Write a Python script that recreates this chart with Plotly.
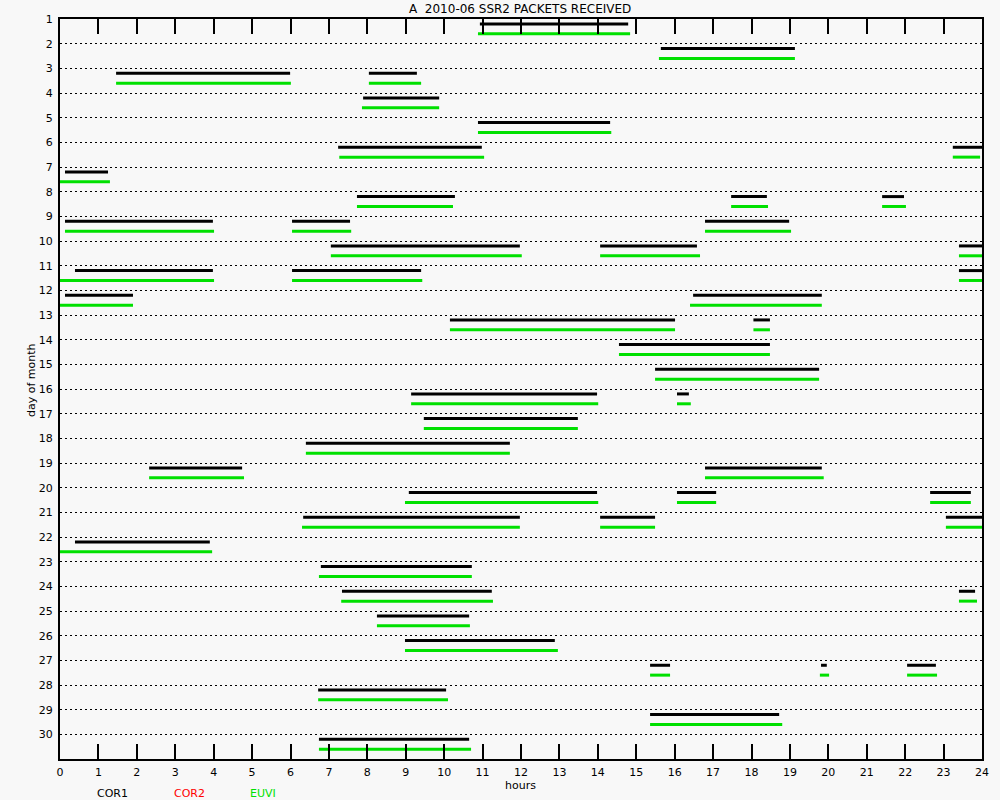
import plotly.graph_objects as go

# COR1 (black) packet intervals: day, start hour, end hour
cor1_day = [1, 2, 3, 3, 4, 5, 6, 6, 7, 8, 8, 8, 9, 9, 9, 10, 10, 10, 11, 11, 11,
            12, 12, 13, 13, 14, 15, 16, 16, 17, 18, 19, 19, 20, 20, 20, 21, 21, 21,
            22, 23, 24, 24, 25, 26, 27, 27, 27, 28, 29, 30]
cor1_start = [10.93, 15.64, 1.46, 8.04, 7.89, 10.88, 7.24, 23.24, 0.13, 7.73, 17.47, 21.40,
              0.13, 6.04, 16.79, 7.05, 14.06, 23.40, 0.39, 6.04, 23.40,
              0.13, 16.48, 10.15, 18.05, 14.55, 15.49, 9.14, 16.06, 9.47, 6.40, 2.32, 16.79,
              9.08, 16.06, 22.65, 6.33, 14.06, 23.06,
              0.39, 6.79, 7.34, 23.40, 8.25, 8.98, 15.36, 19.81, 22.05, 6.72, 15.36, 6.74]
cor1_end = [14.79, 19.13, 5.99, 9.29, 9.87, 14.32, 10.98, 24.0, 1.25, 10.28, 18.40, 21.97,
            3.98, 7.55, 18.98, 11.97, 16.58, 24.0, 3.98, 9.40, 24.0,
            1.90, 19.83, 16.01, 18.48, 18.48, 19.76, 13.98, 16.37, 13.48, 11.71, 4.74, 19.83,
            13.98, 17.08, 23.71, 11.97, 15.49, 24.0,
            3.90, 10.72, 11.24, 23.82, 10.65, 12.88, 15.88, 19.96, 22.80, 10.05, 18.72, 10.65]

# EUVI (green) packet intervals
euvi_day = cor1_day
euvi_start = [10.88, 15.59, 1.46, 8.04, 7.86, 10.88, 7.27, 23.24, 0.0, 7.73, 17.47, 21.40,
              0.13, 6.04, 16.79, 7.05, 14.06, 23.40, 0.0, 6.04, 23.40,
              0.0, 16.40, 10.15, 18.05, 14.55, 15.49, 9.14, 16.06, 9.47, 6.40, 2.32, 16.79,
              8.98, 16.06, 22.65, 6.30, 14.06, 23.06,
              0.0, 6.74, 7.32, 23.40, 8.25, 8.98, 15.36, 19.78, 22.05, 6.72, 15.36, 6.74]
euvi_end = [14.84, 19.13, 6.01, 9.40, 9.87, 14.35, 11.04, 23.95, 1.30, 10.23, 18.43, 22.02,
            4.01, 7.58, 19.03, 12.02, 16.66, 24.0, 4.01, 9.43, 24.0,
            1.90, 19.83, 16.01, 18.48, 18.48, 19.76, 14.01, 16.42, 13.48, 11.71, 4.79, 19.88,
            14.01, 17.08, 23.71, 11.97, 15.49, 24.0,
            3.96, 10.72, 11.27, 23.87, 10.67, 12.96, 15.88, 20.02, 22.83, 10.10, 18.80, 10.70]

hour_ticks = list(range(0, 25))
day_ticks = list(range(1, 31))


def segs(days, starts, ends, offset):
    xs, ys = [], []
    for d, s, e in zip(days, starts, ends):
        xs += [s, e, None]
        ys += [d + offset, d + offset, None]
    return xs, ys


fig = go.Figure()
bx, by = segs(cor1_day, cor1_start, cor1_end, 0.2)
gx, gy = segs(euvi_day, euvi_start, euvi_end, 0.6)
fig.add_trace(go.Scatter(x=bx, y=by, mode="lines", line=dict(color="black", width=3),
                         name="COR1", showlegend=False, hoverinfo="skip"))
fig.add_trace(go.Scatter(x=gx, y=gy, mode="lines", line=dict(color="#00e000", width=3),
                         name="EUVI", showlegend=False, hoverinfo="skip"))

font = "DejaVu Sans"
bg = "#f8f8f8"
L, R, T, B = 60, 982, 19, 759
PW, PH = R - L, B - T
fig.update_layout(
    width=1000, height=800,
    margin=dict(l=L, r=1000 - R, t=T, b=800 - B),
    paper_bgcolor=bg, plot_bgcolor=bg,
    font=dict(family=font, size=11, color="black"),
    xaxis=dict(range=[0, 24], tickvals=hour_ticks, ticktext=[str(h) for h in hour_ticks],
               showline=True, linecolor="black", linewidth=2, mirror="ticks",
               ticks="inside", ticklen=15, tickwidth=1.5, tickcolor="black",
               showgrid=False, zeroline=False, ticklabelstandoff=2,
               tickfont=dict(size=11)),
    yaxis=dict(range=[31, 1], tickvals=day_ticks, ticktext=[str(d) for d in day_ticks],
               showline=True, linecolor="black", linewidth=2, mirror=True,
               ticks="", showgrid=True, gridcolor="black", gridwidth=1, griddash="2px,3px",
               zeroline=False, ticklabelstandoff=3, tickfont=dict(size=11)),
    annotations=[
        dict(text="A  2010-06 SSR2 PACKETS RECEIVED", x=(520 - L) / PW, y=1 + (T - 9) / PH,
             xref="paper", yref="paper", showarrow=False, xanchor="center", yanchor="middle",
             font=dict(size=12)),
        dict(text="hours", x=(520 - L) / PW, y=-(785 - B) / PH, xref="paper", yref="paper",
             showarrow=False, xanchor="center", yanchor="middle", font=dict(size=11)),
        dict(text="day of month", x=-(L - 31) / PW, y=(B - 380) / PH, xref="paper", yref="paper",
             showarrow=False, textangle=-90, xanchor="center", yanchor="middle",
             font=dict(size=11)),
        dict(text="COR1", x=(112 - L) / PW, y=-(793 - B) / PH, xref="paper", yref="paper",
             showarrow=False, xanchor="center", yanchor="middle",
             font=dict(size=11, color="black")),
        dict(text="COR2", x=(189 - L) / PW, y=-(793 - B) / PH, xref="paper", yref="paper",
             showarrow=False, xanchor="center", yanchor="middle",
             font=dict(size=11, color="red")),
        dict(text="EUVI", x=(263 - L) / PW, y=-(793 - B) / PH, xref="paper", yref="paper",
             showarrow=False, xanchor="center", yanchor="middle",
             font=dict(size=11, color="#00e000")),
    ],
)

fig.write_html("out.html", config={"displayModeBar": False},
               post_script="document.body.style.margin='0';document.body.style.background='%s';" % bg)
